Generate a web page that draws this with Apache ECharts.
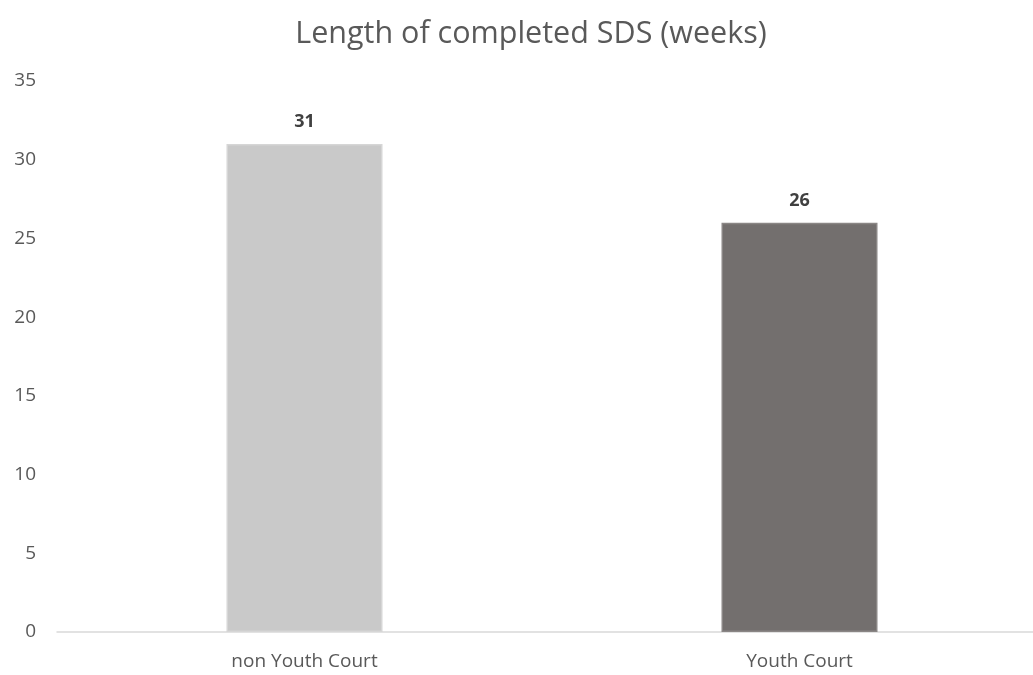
<!DOCTYPE html>
<html><head><meta charset="utf-8">
<script src="https://cdn.jsdelivr.net/npm/echarts@6/dist/echarts.min.js"></script>
<style>html,body{margin:0;padding:0;background:#fff}#c{width:1033px;height:675px}</style>
</head><body><div id="c"></div>
<script>
const categories = ["non Youth Court", "Youth Court"];
const values = [31, 26];
const barColors = ["#c9c9c9", "#736f6e"];
const yTicks = [0, 5, 10, 15, 20, 25, 30, 35];

const chart = echarts.init(document.getElementById('c'));
chart.setOption({
  animation: false,
  title: {
    text: "Length of completed SDS (weeks)",
    left: 526, top: 14, textAlign: 'center',
    textStyle: { fontFamily: 'Open Sans', fontSize: 30.5, fontWeight: 'normal', color: '#595959' }
  },
  grid: { left: 57, right: -14, top: 81, bottom: 43, containLabel: false, outerBoundsMode: 'none' },
  xAxis: {
    type: 'category', data: categories,
    axisLine: { lineStyle: { color: '#d9d9d9', width: 1.5 } },
    axisTick: { show: false },
    axisLabel: { fontFamily: 'Open Sans', fontSize: 19, color: '#595959', margin: 20 }
  },
  yAxis: {
    type: 'value', min: yTicks[0], max: yTicks[yTicks.length - 1], interval: 5,
    splitLine: { show: false },
    axisLine: { show: false }, axisTick: { show: false },
    axisLabel: { fontFamily: 'Open Sans', fontSize: 19, color: '#595959', margin: 21 }
  },
  series: [{
    type: 'bar', barWidth: 156,
    data: values.map((v, i) => ({ value: v, itemStyle: { color: barColors[i], borderColor: i === 0 ? '#d6d6d6' : '#8a8685', borderWidth: 1.5 } })),
    label: { show: true, position: 'top', distance: 13, fontFamily: 'Open Sans', fontSize: 18, fontWeight: 'bold', color: '#404040' }
  }]
});
</script></body></html>
